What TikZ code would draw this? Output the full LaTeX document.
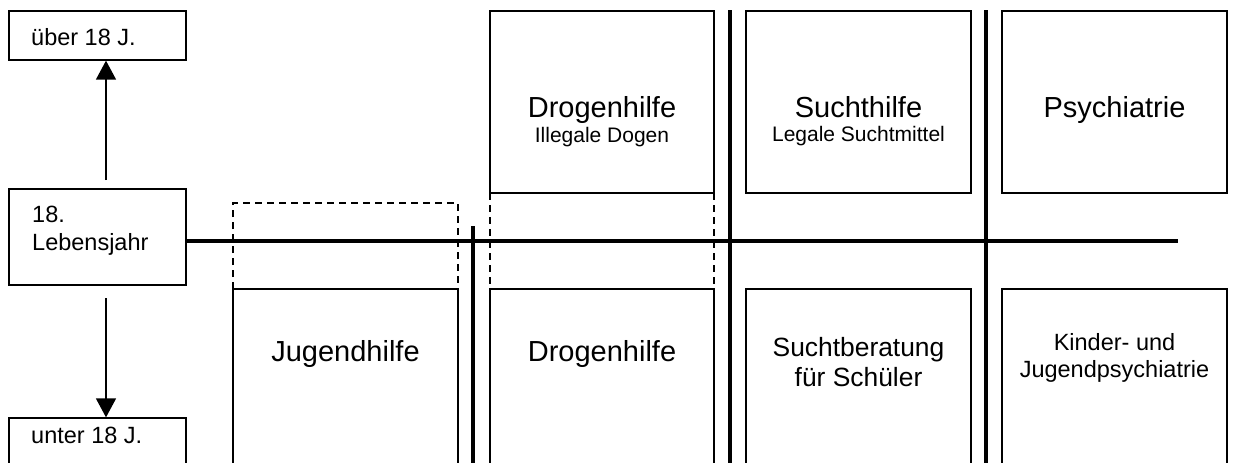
\documentclass[tikz,border=0pt]{standalone}
\usepackage{fontspec}
\setmainfont{Liberation Sans}
\usetikzlibrary{arrows.meta}
\begin{document}
\begin{tikzpicture}[x=1pt,y=-1pt,
  box/.style={draw, line width=1.3pt, inner sep=0pt},
  dashedline/.style={line width=1.3pt, dash pattern=on 7pt off 5pt},
  thickline/.style={line width=4pt},
  arr/.style={line width=1.5pt, -{Triangle[length=19pt,width=20pt]}},
  big/.style={inner sep=0pt, anchor=base, font=\fontsize{29}{33}\selectfont},
  mid/.style={inner sep=0pt, anchor=base, font=\fontsize{26.4}{30}\selectfont},
  small/.style={inner sep=0pt, anchor=base, font=\fontsize{23.5}{27}\selectfont},
  smallw/.style={inner sep=0pt, anchor=base west, font=\fontsize{23.5}{27}\selectfont},
  sub/.style={inner sep=0pt, anchor=base, font=\fontsize{21}{24}\selectfont}]
\clip (0,0) rectangle (1240,463);
\fill[white] (0,0) rectangle (1240,463);

% dashed extensions (behind)
\draw[dashedline] (233,289) -- (233,203) -- (458,203) -- (458,289);
\draw[dashedline] (490,193) -- (490,289);
\draw[dashedline] (714,193) -- (714,289);

% left column boxes
\node[box, minimum width=177pt, minimum height=49pt] (ueber) at (97.5,35.5) {};
\node[box, minimum width=177pt, minimum height=96pt] (lebens) at (97.5,237) {};
\node[box, minimum width=177pt, minimum height=82pt] (unter) at (97.5,459) {};
\node[smallw] (tueber) at (31,45) {über 18 J.};
\node[smallw] (tleb1) at (32,222) {18.};
\node[smallw] (tleb2) at (32,250) {Lebensjahr};
\node[smallw] (tunter) at (31,443) {unter 18 J.};

% arrows
\coordinate (aup) at (106,180);
\coordinate (adn) at (106,298);
\draw[arr] (aup) -- (aup |- ueber.south);
\draw[arr] (adn) -- (adn |- unter.north);

% top boxes
\node[box, minimum width=224pt, minimum height=182pt] (drogtop) at (602,102) {};
\node[box, minimum width=225pt, minimum height=182pt] (suchttop) at (858.5,102) {};
\node[box, minimum width=225pt, minimum height=182pt] (psych) at (1114.5,102) {};
\node[big] (tdrog) at (602,117) {Drogenhilfe};
\node[sub] (tdrog2) at (602,142) {Illegale Dogen};
\node[big] (tsucht) at (858.5,117) {Suchthilfe};
\node[sub] (tsucht2) at (858.5,141) {Legale Suchtmittel};
\node[big] (tpsych) at (1114.5,117) {Psychiatrie};

% bottom boxes (open at the lower edge)
\node[box, minimum width=225pt, minimum height=211pt] (jug) at (345.5,394.5) {};
\node[box, minimum width=224pt, minimum height=211pt] (drogbot) at (602,394.5) {};
\node[box, minimum width=225pt, minimum height=211pt] (beratung) at (858.5,394.5) {};
\node[box, minimum width=225pt, minimum height=211pt] (kjp) at (1114.5,394.5) {};
\node[big] (tjug) at (345.5,361) {Jugendhilfe};
\node[big] (tdrogb) at (602,361) {Drogenhilfe};
\node[mid] (tber1) at (858.5,356) {Suchtberatung};
\node[mid] (tber2) at (858.5,386) {für Schüler};
\node[small] (tkjp1) at (1114.5,350) {Kinder- und};
\node[small] (tkjp2) at (1114.5,377) {Jugendpsychiatrie};

% thick divider lines
\coordinate (hend) at (1178,241);
\draw[thickline] (lebens.east |- hend) -- (hend);
\coordinate (v1t) at (473,226);
\coordinate (v1b) at (473,470);
\coordinate (v2t) at (730,10);
\coordinate (v2b) at (730,470);
\coordinate (v3t) at (986,10);
\coordinate (v3b) at (986,470);
\draw[thickline] (v1t) -- (v1b);
\draw[thickline] (v2t) -- (v2b);
\draw[thickline] (v3t) -- (v3b);
\end{tikzpicture}
\end{document}
